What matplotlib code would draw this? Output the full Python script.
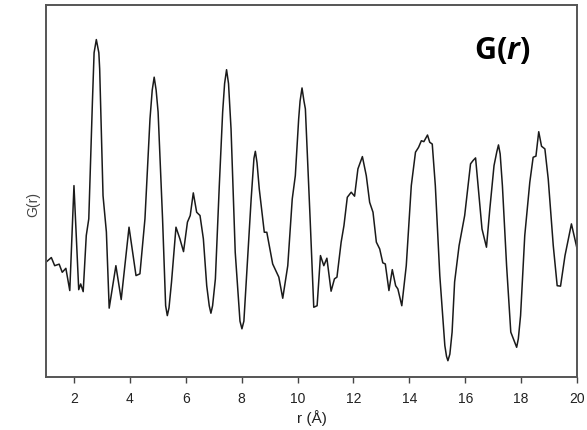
import matplotlib
matplotlib.use("Agg")
import matplotlib.pyplot as plt

# pair distribution function (r in Angstrom, G arbitrary units)
r = [1.00, 1.19, 1.31, 1.47, 1.58, 1.71, 1.85, 2.00, 2.17, 2.24,
     2.33, 2.44, 2.53, 2.66, 2.72, 2.80, 2.89, 2.92, 3.04, 3.16,
     3.26, 3.50, 3.69, 3.97, 4.22, 4.36, 4.54, 4.72, 4.80, 4.87,
     4.94, 5.01, 5.17, 5.28, 5.34, 5.40, 5.49, 5.65, 5.79, 5.92,
     6.06, 6.16, 6.27, 6.39, 6.51, 6.63, 6.75, 6.84, 6.90, 6.96,
     7.06, 7.20, 7.32, 7.39, 7.46, 7.53, 7.62, 7.77, 7.94, 8.01,
     8.08, 8.19, 8.34, 8.44, 8.49, 8.55, 8.63, 8.81, 8.90, 9.11,
     9.33, 9.47, 9.65, 9.81, 9.92, 10.04, 10.09, 10.16, 10.23, 10.28,
     10.45, 10.58, 10.70, 10.82, 10.94, 11.05, 11.20, 11.32, 11.41, 11.56,
     11.66, 11.78, 11.92, 12.04, 12.16, 12.32, 12.46, 12.58, 12.70, 12.82,
     12.94, 13.05, 13.14, 13.27, 13.39, 13.51, 13.59, 13.73, 13.89, 14.07,
     14.22, 14.33, 14.43, 14.52, 14.65, 14.73, 14.82, 14.93, 15.09, 15.27,
     15.33, 15.38, 15.45, 15.53, 15.62, 15.78, 15.98, 16.10, 16.19, 16.28,
     16.37, 16.46, 16.60, 16.76, 16.88, 17.03, 17.13, 17.19, 17.25, 17.33,
     17.48, 17.63, 17.84, 17.90, 17.98, 18.13, 18.31, 18.43, 18.53, 18.63,
     18.73, 18.85, 18.97, 19.15, 19.29, 19.41, 19.57, 19.80, 19.96, 20.00]
g = [0.08, 0.29, -0.08, -0.01, -0.38, -0.20, -1.21, 3.56, -1.17, -0.91,
     -1.26, 1.29, 2.05, 7.36, 9.60, 10.20, 9.60, 8.86, 3.10, 1.45,
     -2.01, -0.08, -1.62, 1.67, -0.53, -0.45, 2.05, 6.59, 7.90, 8.49,
     7.90, 6.91, 2.05, -1.90, -2.35, -2.00, -0.83, 1.67, 1.14, 0.56,
     1.90, 2.20, 3.23, 2.35, 2.20, 1.14, -0.99, -1.90, -2.24, -1.90,
     -0.68, 3.56, 6.90, 8.20, 8.83, 8.20, 6.14, 0.53, -2.60, -2.95,
     -2.60, -0.23, 2.95, 4.80, 5.12, 4.60, 3.41, 1.44, 1.44, 0.00,
     -0.60, -1.56, -0.08, 2.95, 4.01, 6.59, 7.40, 8.00, 7.40, 7.05,
     2.05, -1.97, -1.90, 0.38, -0.08, 0.26, -1.24, -0.68, -0.60, 0.99,
     1.74, 3.03, 3.26, 3.08, 4.32, 4.88, 4.01, 2.80, 2.35, 0.99,
     0.68, 0.05, 0.00, -1.21, -0.26, -0.99, -1.14, -1.90, -0.08, 3.56,
     5.08, 5.30, 5.60, 5.56, 5.86, 5.53, 5.45, 3.56, -0.53, -3.71,
     -4.20, -4.40, -4.10, -3.10, -0.82, 0.83, 2.20, 3.56, 4.55, 4.70,
     4.82, 3.56, 1.59, 0.76, 2.50, 4.47, 5.10, 5.41, 5.00, 3.56,
     -0.08, -3.10, -3.79, -3.40, -2.35, 1.29, 3.71, 4.85, 4.90, 6.01,
     5.35, 5.23, 3.86, 0.83, -0.99, -1.01, 0.38, 1.82, 0.91, 0.70]

xticks = [2, 4, 6, 8, 10, 12, 14, 16, 18, 20]

plt.rcParams["font.family"] = ["Liberation Sans", "DejaVu Sans"]
plt.rcParams["mathtext.fontset"] = "custom"
plt.rcParams["mathtext.bfit"] = "Open Sans:bold:italic"
plt.rcParams["mathtext.bf"] = "Open Sans:bold"
plt.rcParams["mathtext.rm"] = "Open Sans:bold"

fig = plt.figure(figsize=(5.87, 4.31), dpi=100)
ax = fig.add_axes([0.0784, 0.123, 0.9046, 0.863])

ax.plot(r, g, color="#1a1a1a", linewidth=1.1, solid_joinstyle="round")

ax.set_xlim(1, 20)
ax.set_ylim(-5.14, 11.77)
ax.set_xticks(xticks)
ax.set_yticks([])
ax.tick_params(axis="x", direction="out", length=4, width=1.0, color="#444444",
               labelsize=10, labelcolor="#222222", pad=6)
for sp in ax.spines.values():
    sp.set_color("#555555")
    sp.set_linewidth(1.4)

ax.set_xlabel("r (Å)", fontsize=11, color="#222222", labelpad=3)
fig.text(33 / 587, 1 - 205 / 431, "G(r)", rotation=90, fontsize=10,
         color="#444444", ha="center", va="center")

ax.text(0.86, 0.88, r"G($\bfit{r}$)", transform=ax.transAxes, fontsize=22,
        fontweight="bold", family="Open Sans", ha="center", va="center")

fig.savefig("out.png", dpi=100)
